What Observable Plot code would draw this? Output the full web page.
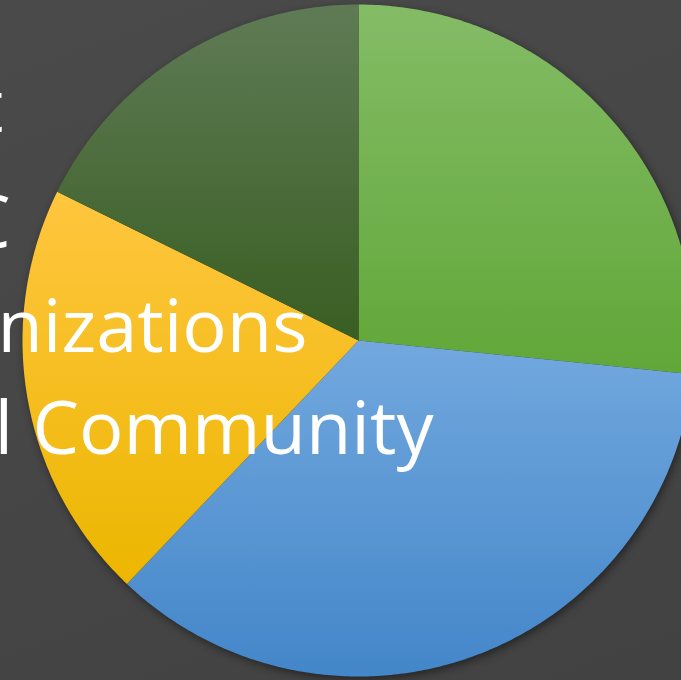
<!DOCTYPE html>
<html><head><meta charset="utf-8">
<script src="https://cdn.jsdelivr.net/npm/d3@7"></script>
<script src="https://cdn.jsdelivr.net/npm/@observablehq/plot@0.6"></script>
<style>
html,body{margin:0;padding:0;overflow:hidden;width:681px;height:680px;
  background:linear-gradient(160deg,#4a4a4a 0%,#464646 50%,#424242 100%);}
#chart{width:681px;height:680px;}
svg{display:block;}
</style></head><body><div id="chart"></div>
<script>
// Legend fragments visible at the left edge (one per slice, in series order)
const categories = ["t", "C", "nizations", "l Community"];
const values = [26.6, 35.5, 20.2, 17.7];

const topColors    = ["#84BC66", "#72A8DE", "#FFC63F", "#5F7B56"];
const bottomColors = ["#61A738", "#4386C9", "#ECB600", "#395E22"];

const W = 681, H = 680, R = 336, CX = 358, CY = 340;

const rows = categories.map((c, i) => ({cat: c, value: values[i]}));
const arcs = d3.pie().sort(null).value(d => d.value)(rows);
const pts = arcs.flatMap(p => {
  const n = Math.max(2, Math.ceil((p.endAngle - p.startAngle) / 0.01));
  const out = [{cat: p.data.cat, x: 0, y: 0}];
  for (let i = 0; i <= n; i++) {
    const a = p.startAngle + (p.endAngle - p.startAngle) * i / n;
    out.push({cat: p.data.cat, x: Math.sin(a), y: Math.cos(a)});
  }
  return out;
});

const textStyle = {fill: "white", fontSize: 74, fontFamily: "'Open Sans', sans-serif",
  frameAnchor: "top-left", textAnchor: "end", lineAnchor: "bottom"};
const textX = [3, 10, 307, 433];
const textY = [131, 247, 351, 453];

const svg = Plot.plot({
  width: W, height: H,
  margin: 0,
  style: {background: "none", overflow: "hidden"},
  x: {domain: [-CX / R, (W - CX) / R], range: [0, W], axis: null},
  y: {domain: [-(H - CY) / R, CY / R], range: [H, 0], axis: null},
  color: {type: "ordinal", domain: categories, range: categories.map((_, i) => `url(#grad${i})`)},
  marks: [
    Plot.line(pts, {x: "x", y: "y", z: "cat", fill: "cat", stroke: "none", curve: "linear-closed"}),
    ...categories.map((c, i) => Plot.text([c], {text: d => d, dx: textX[i], dy: textY[i], ...textStyle}))
  ]
});

const defs = d3.select(svg).insert("defs", ":first-child");
categories.forEach((c, i) => {
  const g = defs.append("linearGradient").attr("id", `grad${i}`)
    .attr("x1", 0).attr("y1", 0).attr("x2", 0).attr("y2", 1);
  g.append("stop").attr("offset", "0%").attr("stop-color", topColors[i]);
  g.append("stop").attr("offset", "100%").attr("stop-color", bottomColors[i]);
});
d3.select(svg).select('g[aria-label="line"]').style("filter", "drop-shadow(2px 3px 4px rgba(0,0,0,0.45))");

document.getElementById("chart").appendChild(svg);
</script>
</body></html>
